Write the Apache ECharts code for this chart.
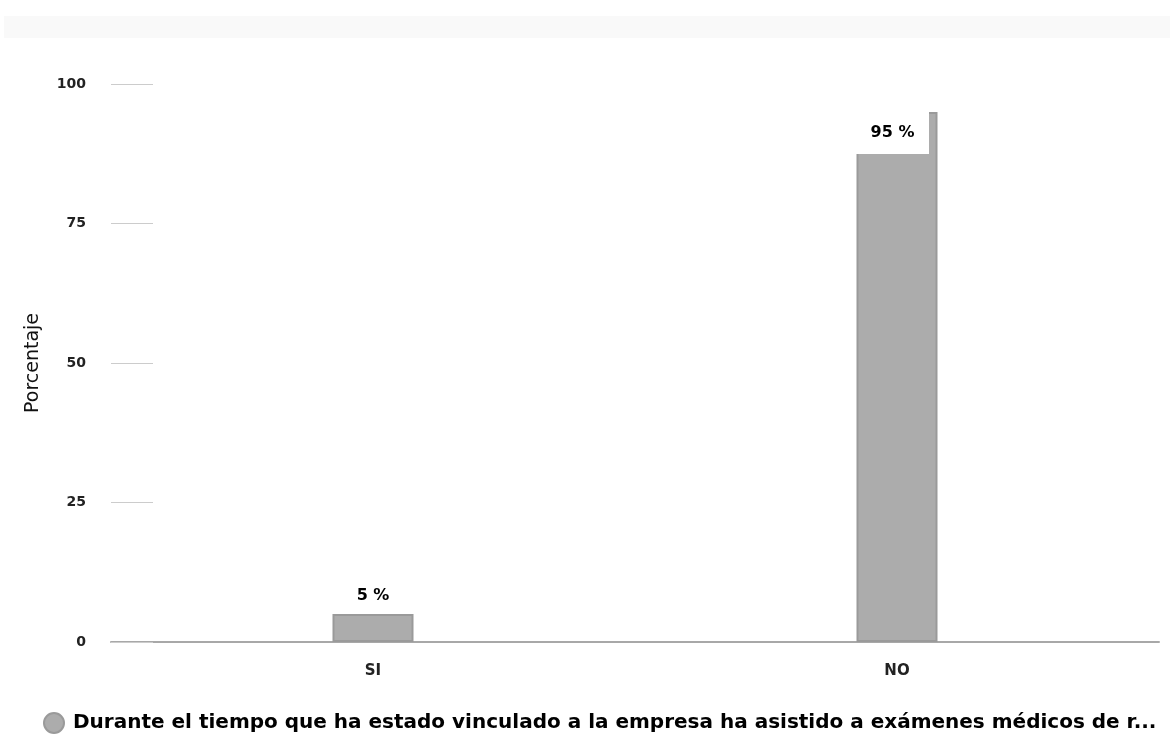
<!DOCTYPE html>
<html>
<head>
<meta charset="utf-8">
<script src="https://cdn.jsdelivr.net/npm/echarts@6/dist/echarts.min.js"></script>
<style>
html,body{margin:0;padding:0;background:#fff;}
#chart{width:1174px;height:734px;}
</style>
</head>
<body>
<div id="chart"></div>
<script>
const categories = ['SI', 'NO'];
const values = [5, 95];
const seriesName = 'Durante el tiempo que ha estado vinculado a la empresa ha asistido a exámenes médicos de r...';
const yTicks = [0, 25, 50, 75, 100];
const yAxisName = 'Porcentaje';

const chart = echarts.init(document.getElementById('chart'));
const fontFam = '"DejaVu Sans", sans-serif';

const data = values.map((v, i) => {
  const item = { value: v };
  if (v > 90) {
    item.label = {
      position: [36, 0],
      align: 'center',
      verticalAlign: 'top',
      width: 73,
      height: 42,
      lineHeight: 42,
      backgroundColor: '#ffffff'
    };
  }
  return item;
});

chart.setOption({
  animation: false,
  backgroundColor: '#ffffff',
  graphic: [{
    type: 'rect',
    shape: { x: 4, y: 16, width: 1166, height: 22 },
    style: { fill: '#f9f9f9' },
    silent: true
  }],
  grid: { left: 111, right: 15, top: 84, bottom: 92 },
  legend: {
    left: 38,
    top: 707,
    icon: 'circle',
    itemWidth: 20,
    itemHeight: 20,
    itemGap: 10,
    textStyle: { fontFamily: fontFam, fontWeight: 'bold', fontSize: 20, color: '#000', padding: [0, 0, 0, 4] }
  },
  xAxis: {
    type: 'category',
    data: categories,
    axisLine: { lineStyle: { color: '#a8a8a8', width: 2 } },
    axisTick: { show: false },
    axisLabel: { margin: 22, fontFamily: fontFam, fontWeight: 'bold', fontSize: 15, color: '#222' }
  },
  yAxis: {
    type: 'value',
    min: 0,
    max: 100,
    interval: 25,
    name: yAxisName,
    nameLocation: 'middle',
    nameGap: 68,
    nameTextStyle: { fontFamily: fontFam, fontSize: 19, color: '#111' },
    axisLine: { show: false },
    axisTick: { show: true, inside: true, length: 42, lineStyle: { color: '#cccccc', width: 1 } },
    splitLine: { show: false },
    axisLabel: {
      margin: 25,
      fontFamily: fontFam,
      fontWeight: 'bold',
      fontSize: 14,
      color: '#222',
      formatter: v => (yTicks.includes(v) ? String(v) : '')
    }
  },
  series: [{
    name: seriesName,
    type: 'bar',
    data: data,
    barWidth: 81,
    itemStyle: { color: '#acacac', borderColor: '#9a9a9a', borderWidth: 2 },
    label: {
      show: true,
      position: 'top',
      distance: 10,
      formatter: p => p.value + ' %',
      fontFamily: fontFam,
      fontWeight: 'bold',
      fontSize: 16,
      color: '#000'
    }
  }]
});
</script>
</body>
</html>
